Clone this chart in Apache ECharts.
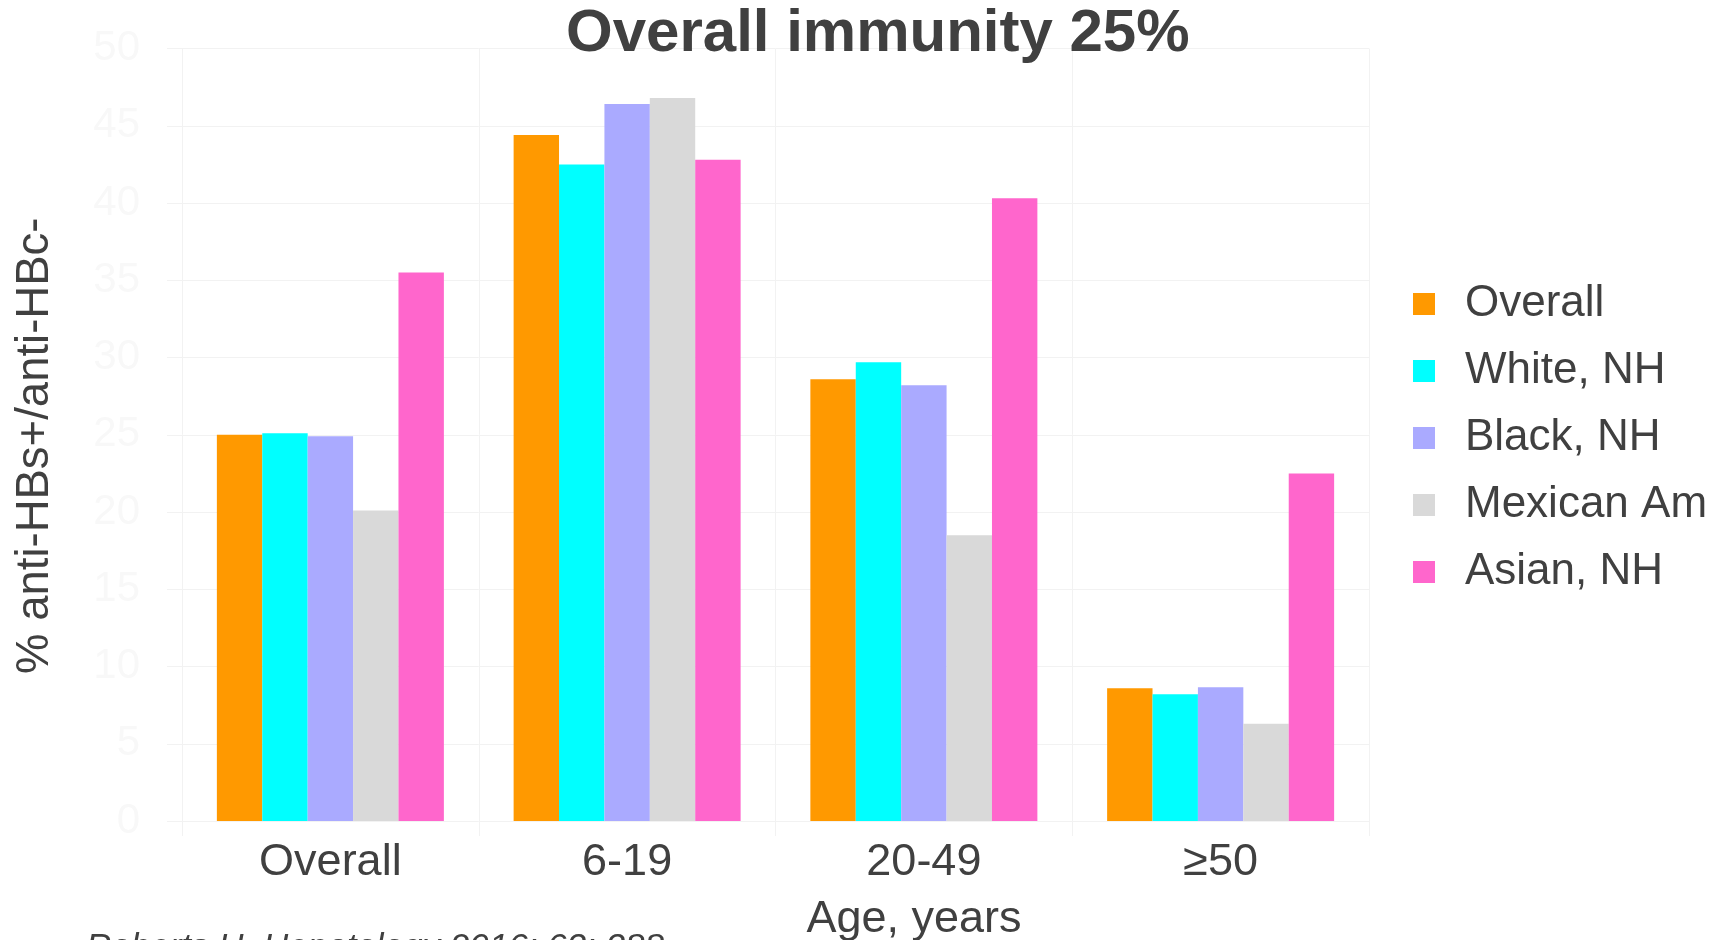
<!DOCTYPE html>
<html>
<head>
<meta charset="utf-8">
<script src="https://cdn.jsdelivr.net/npm/echarts@6/dist/echarts.min.js"></script>
<style>
    html, body { margin: 0; padding: 0; background: #fff; }
    #chart { width: 1722px; height: 940px; }
</style>
</head>
<body>
<div id="chart"></div>
<script>
//分类与数据
const ageGroups = ['Overall', '6-19', '20-49', '≥50'];
const seriesNames = ['Overall', 'White, NH', 'Black, NH', 'Mexican Am', 'Asian, NH'];
const overallVals = [25.0, 44.4, 28.6, 8.6];
const whiteVals = [25.1, 42.5, 29.7, 8.2];
const blackVals = [24.9, 46.4, 28.2, 8.65];
const mexicanVals = [20.1, 46.8, 18.5, 6.3];
const asianVals = [35.5, 42.8, 40.3, 22.5];
const yTicks = [0, 5, 10, 15, 20, 25, 30, 35, 40, 45, 50];

const colors = ['#FF9900', '#00FFFF', '#AAAAFF', '#D9D9D9', '#FF66CC'];
const font = '"Liberation Sans", Arial, sans-serif';
const textColor = '#404040';
const gridColor = '#f2f2f2';

let chart = echarts.init(document.getElementById('chart'));

function makeSeries(name, data) {
    return {
        name: name,
        type: 'bar',
        data: data,
        barGap: '0%',
        barCategoryGap: '23.5%'
    };
}

let option = {
    color: colors,
    textStyle: { fontFamily: font },
    title: {
        text: 'Overall immunity 25%',
        left: 566,
        top: 4,
        padding: 0,
        textStyle: { fontSize: 60, fontWeight: 'bold', color: textColor, fontFamily: font }
    },
    legend: {
        data: seriesNames,
        orient: 'vertical',
        left: 1408,
        top: 277,
        itemWidth: 22,
        itemHeight: 22,
        itemGap: 23,
        icon: 'rect',
        textStyle: { fontSize: 44, color: textColor, fontFamily: font, padding: [0, 0, 0, 25] }
    },
    grid: {
        left: 182,
        right: 353,
        top: 48.5,
        bottom: 119,
        containLabel: false,
        outerBoundsMode: 'none'
    },
    xAxis: {
        type: 'category',
        data: ageGroups,
        name: 'Age, years',
        nameLocation: 'middle',
        nameGap: 76,
        nameTextStyle: { fontSize: 45, color: textColor, fontFamily: font, padding: [0, 0, 0, 277] },
        axisLine: { show: false },
        axisTick: { show: true, length: 15, lineStyle: { color: gridColor } },
        splitLine: { show: true, lineStyle: { color: gridColor } },
        axisLabel: { fontSize: 45, color: textColor, margin: 19, fontFamily: font }
    },
    yAxis: {
        type: 'value',
        min: yTicks[0],
        max: yTicks[yTicks.length - 1],
        interval: 5,
        name: '% anti-HBs+/anti-HBc-',
        nameLocation: 'middle',
        nameGap: 124,
        nameTextStyle: { fontSize: 45.5, color: textColor, fontFamily: font, padding: [0, 22, 0, 0] },
        axisLine: { show: false },
        axisTick: { show: true, length: 15, lineStyle: { color: gridColor } },
        splitLine: { show: true, lineStyle: { color: gridColor } },
        axisLabel: { fontSize: 42, color: '#f8f8f8', margin: 42, fontFamily: font }
    },
    graphic: [{
        type: 'text',
        left: 86,
        top: 931,
        style: {
            text: 'Roberts H, Hepatology 2016; 63: 388',
            font: 'italic 35px "Liberation Sans", Arial, sans-serif',
            fill: textColor
        }
    }],
    series: [
        makeSeries(seriesNames[0], overallVals),
        makeSeries(seriesNames[1], whiteVals),
        makeSeries(seriesNames[2], blackVals),
        makeSeries(seriesNames[3], mexicanVals),
        makeSeries(seriesNames[4], asianVals)
    ]
};
chart.setOption(option);
</script>
</body>
</html>
